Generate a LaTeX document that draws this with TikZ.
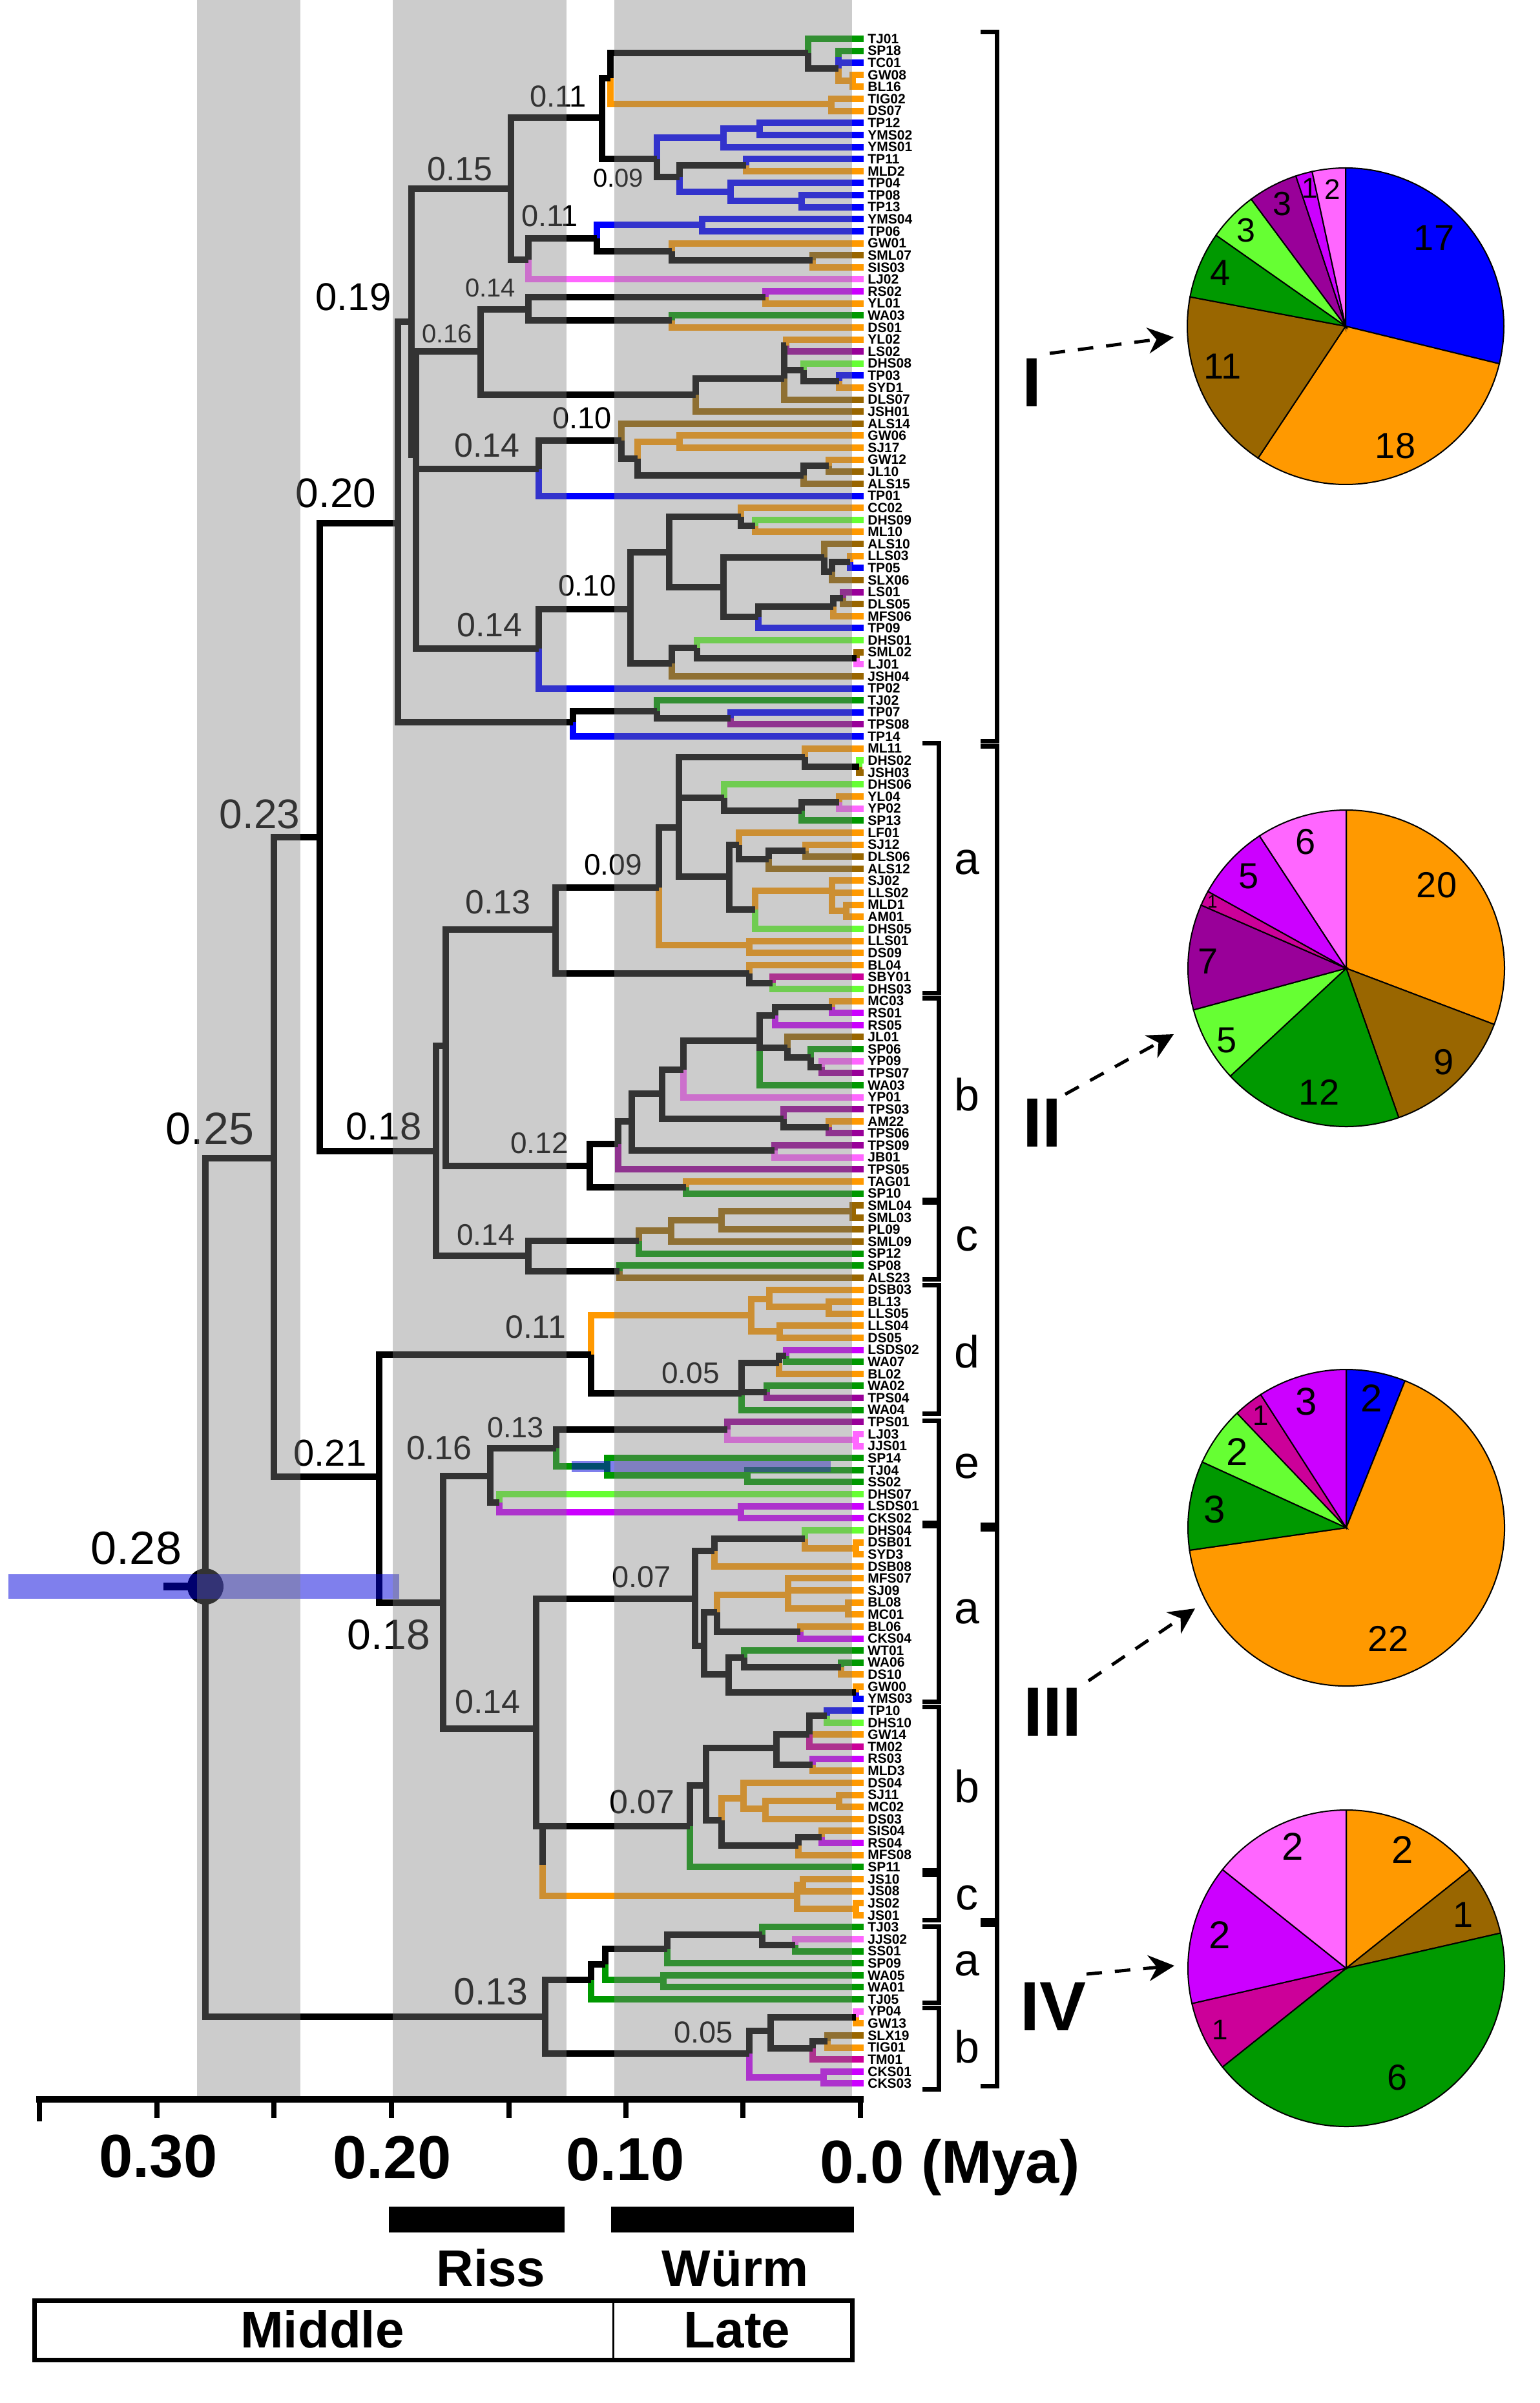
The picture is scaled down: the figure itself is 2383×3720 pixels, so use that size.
\documentclass[tikz,border=0pt]{standalone}
\usepackage{fontspec}
\setmainfont{Liberation Sans}
\usetikzlibrary{arrows.meta}
\definecolor{orng}{HTML}{FF9900}
\definecolor{brwn}{HTML}{996600}
\definecolor{blu}{HTML}{0000FF}
\definecolor{grn}{HTML}{009900}
\definecolor{lgrn}{HTML}{66FF33}
\definecolor{dpur}{HTML}{990099}
\definecolor{magn}{HTML}{CC00FF}
\definecolor{pnk}{HTML}{FF66FF}
\definecolor{crim}{HTML}{CC0099}
\definecolor{cibar}{RGB}{0,0,220}
\tikzset{
  branch/.style={line width=5pt},
  tiplab/.style={anchor=west,inner sep=0pt,font=\fontsize{10.5}{11}\selectfont\bfseries},
  agelab/.style={inner sep=0pt},
  axlab/.style={inner sep=0pt,font=\fontsize{47}{50}\selectfont\bfseries},
  stagelab/.style={anchor=base,inner sep=0pt,font=\fontsize{40}{44}\selectfont\bfseries},
  cladelab/.style={inner sep=0pt,font=\fontsize{54}{58}\selectfont\bfseries},
  brk/.style={line width=3.5pt},
  dasharr/.style={line width=2.5pt,dash pattern=on 12pt off 10pt,-{Stealth[length=20pt,width=20pt]}}
}
% slices run clockwise from twelve o'clock
\newcommand{\drawpie}[3]{
  \gdef\pieang{0}
  \foreach \col/\val in {#3}{
    \pgfmathsetmacro{\angend}{\pieang+\val*360/#2}
    \filldraw[fill=\col,draw=black,line width=1pt] (#1) -- ++(90-\pieang:122.5pt)
      arc[start angle=90-\pieang,end angle=90-\angend,radius=122.5pt] -- cycle;
    \xdef\pieang{\angend}
  }
}
\begin{document}
\begin{tikzpicture}[x=0.5pt,y=-0.5pt]
\useasboundingbox (0,0) rectangle (2383,3720);

% tree: x in pixels, y counted in tips
\begin{scope}[yshift=-20.7pt,y=-9.31pt]
  \foreach \tipname/\col/\px/\py [count=\i] in {
    TJ01/grn/1251/2.17,SP18/grn/1298/2.5,TC01/blu/1298/2.5,GW08/orng/1320/4.5,BL16/orng/1320/4.5,
    TIG02/orng/1287/6.43,DS07/orng/1287/6.43,TP12/blu/1176/8.45,YMS02/blu/1176/8.45,YMS01/blu/1120/9.2,
    TP11/blu/1155/11.5,MLD2/orng/1155/11.5,TP04/blu/1131/13.74,TP08/blu/1241/14.5,TP13/blu/1241/14.5,
    YMS04/blu/1087/16.47,TP06/blu/1087/16.47,GW01/orng/1040/18.67,SML07/brwn/1258/19.44,SIS03/orng/1258/19.44,
    LJ02/pnk/818/19.35,RS02/magn/1185/22.5,YL01/orng/1185/22.5,WA03/grn/1040/24.4,DS01/orng/1040/24.4,
    YL02/orng/1217/26.5,LS02/dpur/1217/26.5,DHS08/lgrn/1244/28.56,TP03/blu/1299/29.46,SYD1/orng/1299/29.46,
    DLS07/brwn/1214/29.26,JSH01/brwn/1077/30.6,ALS14/brwn/962/34.43,GW06/orng/1052/34.5,SJ17/orng/1052/34.5,
    GW12/orng/1283/36.5,JL10/brwn/1283/36.5,ALS15/brwn/1244/37.3,TP01/blu/834/36.76,CC02/orng/1147/40.74,
    DHS09/lgrn/1169/41.5,ML10/orng/1169/41.5,ALS10/brwn/1276/44.14,LLS03/orng/1316/44.5,TP05/blu/1316/44.5,
    SLX06/brwn/1288/45.3,LS01/dpur/1305/47.5,DLS05/brwn/1305/47.5,MFS06/orng/1290/48.2,TP09/blu/1174/49.06,
    DHS01/lgrn/1079/51.65,SML02/brwn/1326/52.5,LJ01/pnk/1326/52.5,JSH04/brwn/1040/52.94,TP02/blu/834/51.7,
    TJ02/grn/1017/56.9,TP07/blu/1131/57.5,TPS08/dpur/1131/57.5,TP14/blu/887/57.8,
    ML11/orng/1246/60.7,DHS02/lgrn/1330/61.5,JSH03/brwn/1330/61.5,DHS06/lgrn/1121/64.1,YL04/orng/1299/64.5,
    YP02/pnk/1299/64.5,SP13/grn/1241/65.2,LF01/orng/1144/68,SJ12/orng/1247/68.5,DLS06/brwn/1247/68.5,
    ALS12/brwn/1190/69.2,SJ02/orng/1288/71.85,LLS02/orng/1288/71.85,MLD1/orng/1310/73.5,AM01/orng/1310/73.5,
    DHS05/lgrn/1169/73.4,LLS01/orng/1160/76.37,DS09/orng/1160/76.37,BL04/orng/1160/78.7,SBY01/crim/1196/79.5,
    DHS03/lgrn/1196/79.5,MC03/orng/1288/81.5,RS01/magn/1288/81.5,RS05/magn/1200/82.2,JL01/brwn/1219/84.88,
    SP06/grn/1255/85.7,YP09/pnk/1272/86.5,TPS07/dpur/1272/86.5,WA03/grn/1176/84.27,YP01/pnk/1058/86.7,
    TPS03/dpur/1213/90.77,AM22/orng/1283/91.5,TPS06/dpur/1283/91.5,TPS09/dpur/1199/93.4,JB01/pnk/1199/93.4,
    TPS05/dpur/957/92.9,TAG01/orng/1062/96.46,SP10/grn/1062/96.46,SML04/brwn/1320/98.5,SML03/brwn/1320/98.5,
    PL09/brwn/1117/99.2,SML09/brwn/1039/100.1,SP12/grn/989/100.97,SP08/grn/959/103.46,ALS23/brwn/959/103.46,
    DSB03/orng/1191/105.8,BL13/orng/1283/106.43,LLS05/orng/1283/106.43,LLS04/orng/1207/108.44,DS05/orng/1207/108.44,
    LSDS02/magn/1217/110.5,WA07/grn/1217/110.5,BL02/orng/1206/111.1,WA02/grn/1187/113.5,TPS04/dpur/1187/113.5,
    WA04/grn/1148/113.6,TPS01/dpur/1126/116.65,LJ03/pnk/1325/117.5,JJS01/pnk/1325/117.5,SP14/grn/940/119.7,
    TJ04/grn/1157/120.46,SS02/grn/1157/120.46,DHS07/lgrn/773/122.7,LSDS01/magn/1147/123.5,CKS02/magn/1147/123.5,
    DHS04/lgrn/1246/125.7,DSB01/orng/1325/126.5,SYD3/orng/1325/126.5,DSB08/orng/1106/126.7,MFS07/orng/1220/130.4,
    SJ09/orng/1220/130.4,BL08/orng/1313/131.5,MC01/orng/1313/131.5,BL06/orng/1239/133.46,CKS04/magn/1239/133.46,
    WT01/grn/1152/135.6,WA06/grn/1302/136.4,DS10/orng/1302/136.4,GW00/orng/1325/138.5,YMS03/blu/1325/138.5,
    TP10/blu/1280/140.4,DHS10/lgrn/1280/140.4,GW14/orng/1253/141.95,TM02/crim/1253/141.95,RS03/magn/1258/144.5,
    MLD3/orng/1258/144.5,DS04/orng/1151/147.3,SJ11/orng/1299/147.5,MC02/orng/1299/147.5,DS03/orng/1185/148.15,
    SIS04/orng/1272/150.5,RS04/magn/1272/150.5,MFS08/orng/1236/151.2,SP11/grn/1068/149.6,JS10/orng/1243/154.5,
    JS08/orng/1243/154.5,JS02/orng/1325/156.5,JS01/orng/1325/156.5,TJ03/grn/1180/158.6,JJS02/pnk/1231/159.5,
    SS01/grn/1231/159.5,SP09/grn/1033/159.8,WA05/grn/1027/162.4,WA01/grn/1027/162.4,TJ05/grn/915/162.4,
    YP04/pnk/1325/165.5,GW13/orng/1325/165.5,SLX19/brwn/1281/167.5,TIG01/orng/1281/167.5,TM01/crim/1258/168.1,
    CKS01/magn/1275/170.5,CKS03/magn/1275/170.5}{
    \draw[branch,color=\col] (\px,\py) |- (1337,\i);
    \node[tiplab] (tip\i) at (1343,\i) {\tipname};
  }
  % coloured inner branches
  \foreach \col/\px/\py/\cx/\cy in {
    orng/945/4.28/1287/6.43,blu/1298/3.47/1298/2.5,orng/1298/3.47/1320/4.5,blu/1017/11/1120/9.2,
    blu/1120/9.2/1176/8.45,blu/1052/12.5/1131/13.74,blu/1131/13.74/1241/14.5,blu/924/17.6/1087/16.47,
    orng/987/35.9/1052/34.5,orng/1020/71.56/1160/76.37,orng/1169/73.4/1288/71.85,orng/1288/71.85/1310/73.5,
    brwn/989/100.97/1039/100.1,brwn/1039/100.1/1117/99.2,brwn/1117/99.2/1320/98.5,
    orng/915/110.4/1163/107.1,orng/1163/107.1/1191/105.8,orng/1163/107.1/1207/108.44,orng/1191/105.8/1283/106.43,
    magn/773/122.7/1147/123.5,grn/861/118.2/940/119.7,grn/940/119.7/1157/120.46,pnk/1126/116.65/1325/117.5,
    orng/840/152.8/1234/155.4,orng/1246/125.7/1325/126.5,orng/1110/131.8/1220/130.4,orng/1220/130.4/1313/131.5,
    orng/1117/149.1/1151/147.3,orng/1151/147.3/1185/148.15,orng/1185/148.15/1299/147.5,
    orng/1234/155.4/1243/154.5,orng/1234/155.4/1325/156.5,grn/937/161.1/1027/162.4,magn/1160/168.5/1275/170.5}
    \draw[branch,color=\col] (\px,\py) |- (\cx,\cy);
  % black inner branches
  \foreach \px/\py/\cx/\cy in {
    318/129.7/424/94.07,318/129.7/844/165.46,424/94.07/495/67.4,424/94.07/587/120.55,
    495/67.4/616/41.3,495/67.4/675/93.5,616/41.3/637/24.5,616/41.3/887/57.8,
    637/24.5/791/13.45,637/24.5/644/35.6,644/35.6/744/27,644/35.6/834/36.76,644/35.6/834/51.7,
    791/13.45/932/7.54,791/13.45/818/19.35,932/7.54/945/4.28,932/7.54/1017/11,
    945/4.28/1251/2.17,1251/2.17/1298/3.47,1017/11/1052/12.5,1052/12.5/1155/11.5,
    818/19.35/924/17.6,924/17.6/1040/18.67,1040/18.67/1258/19.44,
    744/27/818/23.5,744/27/1077/30.6,818/23.5/1185/22.5,818/23.5/1040/24.4,
    1077/30.6/1214/29.26,1214/29.26/1217/26.5,1214/29.26/1244/28.56,1244/28.56/1299/29.46,
    834/36.76/962/34.43,962/34.43/987/35.9,987/35.9/1244/37.3,1244/37.3/1283/36.5,
    834/51.7/976/48.4,976/48.4/1036/43.7,976/48.4/1040/52.94,1036/43.7/1147/40.74,1036/43.7/1120/46.57,
    1147/40.74/1169/41.5,1120/46.57/1276/44.14,1120/46.57/1174/49.06,1276/44.14/1288/45.3,1288/45.3/1316/44.5,
    1174/49.06/1290/48.2,1290/48.2/1305/47.5,1040/52.94/1079/51.65,1079/51.65/1326/52.5,
    887/57.8/1017/56.9,1017/56.9/1131/57.5,
    675/93.5/690/84.7,675/93.5/818/102.2,690/84.7/860/75.07,690/84.7/913/94.7,
    860/75.07/1020/71.56,860/75.07/1160/78.7,1020/71.56/1051/66.57,
    1051/66.57/1246/60.7,1051/66.57/1121/64.1,1051/66.57/1129/70.66,
    1246/60.7/1330/61.5,1121/64.1/1241/65.2,1241/65.2/1299/64.5,
    1129/70.66/1144/68,1129/70.66/1169/73.4,1144/68/1190/69.2,1190/69.2/1247/68.5,1160/78.7/1196/79.5,
    913/94.7/957/92.9,913/94.7/1062/96.46,957/92.9/978/91,978/91/1025/88.7,978/91/1199/93.4,
    1025/88.7/1058/86.7,1025/88.7/1213/90.77,1213/90.77/1283/91.5,1058/86.7/1176/84.27,
    1176/84.27/1200/82.2,1176/84.27/1219/84.88,1200/82.2/1288/81.5,1219/84.88/1255/85.7,1255/85.7/1272/86.5,
    818/102.2/989/100.97,818/102.2/959/103.46,
    587/120.55/915/110.4,587/120.55/686/131,915/110.4/1148/113.6,
    1148/113.6/1206/111.1,1148/113.6/1187/113.5,1206/111.1/1217/110.5,
    686/131/759/120.47,686/131/830/141.5,759/120.47/861/118.2,759/120.47/773/122.7,861/118.2/1126/116.65,
    830/141.5/1076/130.7,830/141.5/1068/149.6,840/149.6/840/152.8,
    1076/130.7/1106/126.7,1076/130.7/1090/134.6,1106/126.7/1246/125.7,
    1090/134.6/1110/131.8,1090/134.6/1128/136.96,1110/131.8/1239/133.46,
    1128/136.96/1152/135.6,1128/136.96/1325/138.5,1152/135.6/1302/136.4,
    1068/149.6/1093/146.2,1093/146.2/1202/143.1,1093/146.2/1117/149.1,
    1202/143.1/1253/141.95,1202/143.1/1258/144.5,1253/141.95/1280/140.4,
    1117/149.1/1236/151.2,1236/151.2/1272/150.5,
    844/165.46/915/162.4,844/165.46/1160/168.5,915/162.4/937/161.1,937/161.1/1033/159.8,
    1033/159.8/1180/158.6,1180/158.6/1231/159.5,
    1160/168.5/1193/166.6,1193/166.6/1325/165.5,1193/166.6/1258/168.1,1258/168.1/1281/167.5}
    \draw[branch] (\px,\py) |- (\cx,\cy);
\end{scope}

% root point
\draw[line width=6pt] (253,2456) -- (318,2456);
\fill (318,2456) circle[radius=14pt];

% node ages, size in pt
\foreach \age/\lx/\ly/\sz [count=\i] in {
  0.11/864/149/23.5,0.15/712/262/26,0.09/957/276/20,0.11/851/334/23.5,0.14/759/446/20,0.16/692/517/20,
  0.19/547/460/30,0.20/520/763/32,0.23/402/1260/32,0.25/325/1747/35,0.18/594/1744/30,
  0.10/901/647/23.5,0.14/754/690/26,0.10/909/907/23,0.14/758/968/26,
  0.09/949/1339/23,0.13/771/1397/26,0.12/835/1770/23,0.14/752/1912/23,0.11/829/2054/25,0.05/1069/2126/23,
  0.13/798/2210/22.5,0.16/680/2242/26,0.21/511/2250/29,0.28/211/2397/36,0.18/602/2531/33,0.14/755/2635/26,
  0.13/760/3083/29.5,0.07/993/2441/23.5,0.07/994/2790/26,0.05/1089/3146/23.5}
  \node[agelab,font=\fontsize{\sz}{\sz}\selectfont] (age\i) at (\lx,\ly) {\age};

% confidence bars
\fill[cibar,opacity=.5] (13,2437) rectangle (618,2475);
\fill[cibar,opacity=.5] (885,2262) rectangle (1286,2279);

% Riss and Wurm bands lie over the tree
\foreach \xa/\xb in {305/465,608/877,951/1319}
  \fill[black!50,opacity=.4] (\xa,0) rectangle (\xb,3245);

% time axis
\draw[line width=5pt] (56,3250) -- (1337,3250);
\foreach \tx in {243,424,606,788,969,1150,1332}
  \draw[line width=4pt] (\tx,3250) -- (\tx,3279);
\draw[line width=4pt] (61,3250) -- (61,3284);
\node[axlab] (t30) at (245,3338) {0.30};
\node[axlab] (t20) at (607,3340) {0.20};
\node[axlab] (t10) at (968,3343) {0.10};
\node[axlab,anchor=base west] (t00) at (1269,3379) {0.0 (Mya)};

\fill (602,3416) rectangle (874,3456);
\fill (946,3416) rectangle (1322,3456);
\node[stagelab] (riss) at (760,3539) {Riss};
\node[stagelab] (wurm) at (1138,3539) {Würm};
\draw[line width=3.5pt] (53,3561) rectangle (1319,3653);
\draw[line width=1.5pt] (949,3561) -- (949,3653);
\node[stagelab] (middle) at (499,3634) {Middle};
\node[stagelab] (late) at (1141,3634) {Late};

% clade brackets
\foreach \xa/\xb/\ya/\yb in {
  1518/1543/50/1147,1518/1543/1155/2360,1518/1543/2367/2972,1518/1543/2979/3229,
  1428/1453/1150/1537,1428/1453/1545/1857,1428/1453/1861/1980,1428/1453/1989/2188,1428/1453/2199/2357,
  1428/1453/2362/2634,1428/1453/2642/2895,1428/1453/2902/2972,1428/1453/2982/3100,1428/1453/3108/3234}
  \draw[brk] (\xa,\ya) -- (\xb,\ya) -- (\xb,\yb) -- (\xa,\yb);
\foreach \sub/\ly [count=\i] in {a/1335,b/1694,c/1918,d/2092,e/2270,a/2495,b/2765,c/2938,a/3040,b/3168}
  \node[agelab,font=\fontsize{35}{35}\selectfont] (sub\i) at (1497,\ly) {\sub};

% clades and pies
\node[cladelab] (lblI) at (1597,592) {I};
\node[cladelab] (lblII) at (1613,1738) {II};
\node[cladelab] (lblIII) at (1629,2650) {III};
\node[cladelab] (lblIV) at (1630,3106) {IV};

\coordinate (pieI) at (2083,505);
\coordinate (pieII) at (2084,1499);
\coordinate (pieIII) at (2084,2365);
\coordinate (pieIV) at (2084,3047);
\drawpie{pieI}{59}{blu/17,orng/18,brwn/11,grn/4,lgrn/3,dpur/3,magn/1,pnk/2}
\drawpie{pieII}{65}{orng/20,brwn/9,grn/12,lgrn/5,dpur/7,crim/1,magn/5,pnk/6}
\drawpie{pieIII}{33}{blu/2,orng/22,grn/3,lgrn/2,crim/1,magn/3}
\drawpie{pieIV}{14}{orng/2,brwn/1,grn/6,crim/1,magn/2,pnk/2}

\foreach \num/\lx/\ly/\sz [count=\i] in {
  17/2220/368/28,18/2160/690/28,11/1893/567/28,4/1889/422/28,3/1929/357/26,3/1985/316/26,1/2028/291/22,2/2063/293/22,
  20/2224/1370/28,9/2235/1644/28,12/2042/1691/28,5/1899/1610/28,7/1870/1488/28,1/1877/1396/14,5/1933/1356/28,6/2021/1303/28,
  2/2123/2165/30,22/2149/2537/28,3/1880/2337/30,2/1915/2248/30,1/1952/2191/22,3/2022/2170/30,
  2/2171/2864/30,1/2265/2964/28,6/2163/3216/28,1/1889/3142/22,2/1888/2996/30,2/2001/2859/30}
  \node[agelab,font=\fontsize{\sz}{\sz}\selectfont] (num\i) at (\lx,\ly) {\num};

% arrows from the clade names to the pies
\coordinate (arI) at (1625,547);    \coordinate (ptI) at (1817,522);
\coordinate (arII) at (1649,1694);  \coordinate (ptII) at (1817,1601);
\coordinate (arIII) at (1685,2602); \coordinate (ptIII) at (1850,2490);
\coordinate (arIV) at (1682,3056);  \coordinate (ptIV) at (1818,3043);
\draw[dasharr] (arI) -- (ptI);
\draw[dasharr] (arII) -- (ptII);
\draw[dasharr] (arIII) -- (ptIII);
\draw[dasharr] (arIV) -- (ptIV);
\end{tikzpicture}
\end{document}
